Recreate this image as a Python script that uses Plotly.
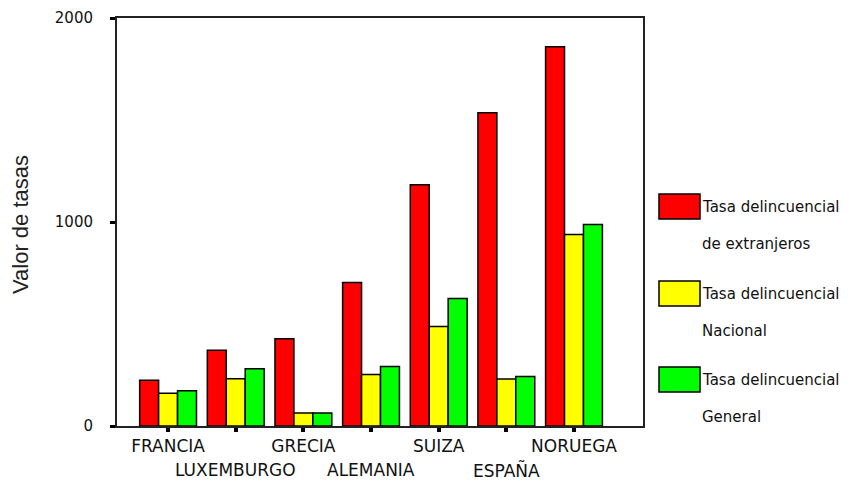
import plotly.graph_objects as go

# ---- data ----
paises = ["FRANCIA", "LUXEMBURGO", "GRECIA", "ALEMANIA", "SUIZA", "ESPAÑA", "NORUEGA"]
tasa_extranjeros = [224, 371, 428, 704, 1182, 1535, 1859]
tasa_nacional = [161, 232, 64, 253, 488, 230, 939]
tasa_general = [173, 281, 64, 292, 625, 243, 988]
series_names = ["Tasa delincuencial de extranjeros",
                "Tasa delincuencial Nacional",
                "Tasa delincuencial General"]
series_colors = ["#FF0000", "#FFFF00", "#00FF00"]
y_ticks = [0, 1000, 2000]
y_title = "Valor de tasas"

OFF = 8  # page body margin
PW, PH = 854, 482
W, H = PW - OFF, PH - OFF
L, R, T, B = 117, 643, 18, 426  # plot area in page pixels


def px_x(px):
    return (px - L) / (R - L)


def px_y(py):
    return (B - py) / (B - T)


fig = go.Figure()
for name, vals, col in zip(series_names, [tasa_extranjeros, tasa_nacional, tasa_general], series_colors):
    fig.add_trace(go.Bar(
        x=paises, y=vals, name=name,
        marker=dict(color=col, line=dict(color="#000000", width=1.5)),
        showlegend=False,
    ))

font_fam = "DejaVu Sans, Verdana, sans-serif"
title_fam = "Liberation Sans, Arial, sans-serif"
ticktext = [p if i % 2 == 0 else "" for i, p in enumerate(paises)]

fig.update_layout(
    width=W, height=H,
    margin=dict(l=L - OFF, r=PW - R, t=T - OFF, b=PH - B, autoexpand=False),
    paper_bgcolor="white", plot_bgcolor="white",
    barmode="group", bargap=0.16, bargroupgap=0,
    font=dict(family=font_fam, size=16, color="#111111"),
    xaxis=dict(
        type="category", range=[-0.755, 7.02],
        tickmode="array", tickvals=paises, ticktext=ticktext,
        ticks="outside", ticklen=4, tickwidth=4, tickcolor="#000000",
        showline=True, mirror=True, linecolor="#222222", linewidth=2,
        showgrid=False, zeroline=False,
        tickfont=dict(size=17),
    ),
    yaxis=dict(
        range=[0, 2000], tickmode="array", tickvals=y_ticks,
        ticktext=[str(v) for v in y_ticks],
        ticks="outside", ticklen=5, tickwidth=3, tickcolor="#000000",
        showline=True, mirror=True, linecolor="#222222", linewidth=2,
        showgrid=False, zeroline=False,
        tickfont=dict(size=15), ticklabelstandoff=14,
    ),
)

annotations = []
# lower row of category labels
for i, p in enumerate(paises):
    if i % 2 == 1:
        annotations.append(dict(
            x=p, xref="x", y=0, yref="paper", yshift=-44,
            text=p, showarrow=False, yanchor="middle", xanchor="center",
            font=dict(size=17, family=font_fam, color="#111111"),
        ))

# y title
annotations.append(dict(
    x=px_x(20), xref="paper", y=px_y(225), yref="paper",
    text=y_title, textangle=-90, showarrow=False,
    xanchor="center", yanchor="middle",
    font=dict(size=22, family=title_fam, color="#222222"),
))

# custom legend
shapes = []
box_tops = [194, 281, 367]
for name, col, top in zip(series_names, series_colors, box_tops):
    shapes.append(dict(
        type="rect", xref="paper", yref="paper",
        x0=px_x(659), x1=px_x(700), y0=px_y(top + 25), y1=px_y(top),
        fillcolor=col, line=dict(color="#000000", width=1.5),
    ))
    first, second = name.split("delincuencial ")
    annotations.append(dict(
        x=px_x(700), xref="paper", y=px_y(top + 12.5), yref="paper",
        text=first + "delincuencial", showarrow=False,
        xanchor="left", yanchor="middle",
        font=dict(size=15, family=font_fam, color="#111111"),
    ))
    annotations.append(dict(
        x=px_x(700), xref="paper", y=px_y(top + 50), yref="paper",
        text=second, showarrow=False,
        xanchor="left", yanchor="middle",
        font=dict(size=15, family=font_fam, color="#111111"),
    ))

fig.update_layout(annotations=annotations, shapes=shapes)
fig.write_html("out.html")
